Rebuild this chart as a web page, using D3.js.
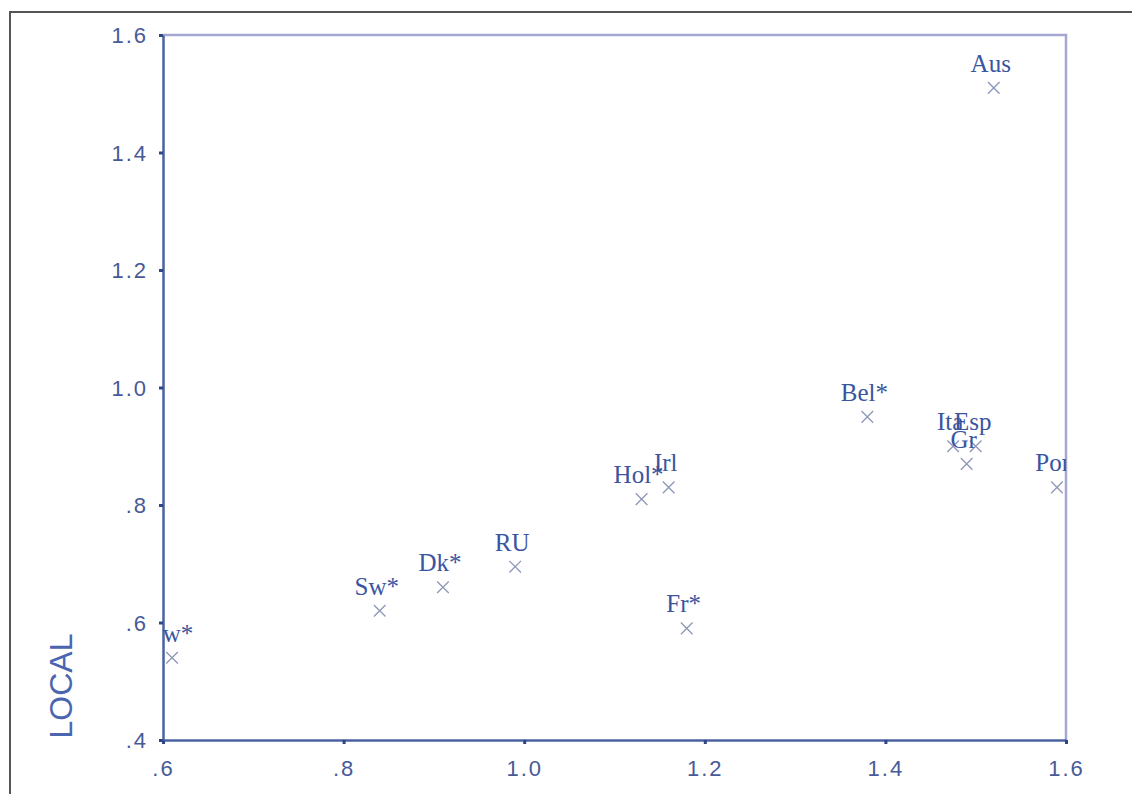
<!DOCTYPE html>
<html>
<head>
<meta charset="utf-8">
<script src="https://cdn.jsdelivr.net/npm/d3@7"></script>
<style>
  html, body { margin: 0; padding: 0; background: #ffffff; }
  svg { display: block; }
</style>
</head>
<body>
<svg id="chart" width="1132" height="794"></svg>
<script>
// Country cases: horizontal value, LOCAL value, case label
const countries = ["Nw*", "Sw*", "Dk*", "RU", "Hol*", "Irl", "Fr*", "Bel*", "Ita", "Esp", "Gr", "Por", "Aus"];
const xValues   = [0.61, 0.84, 0.91, 0.99, 1.13, 1.16, 1.18, 1.38, 1.475, 1.50, 1.49, 1.59, 1.52];
const localValues = [0.54, 0.62, 0.66, 0.695, 0.81, 0.83, 0.59, 0.95, 0.90, 0.90, 0.87, 0.83, 1.51];

const xTicks = [0.6, 0.8, 1.0, 1.2, 1.4, 1.6];
const yTicks = [0.4, 0.6, 0.8, 1.0, 1.2, 1.4, 1.6];
const yTitle = "LOCAL";

const points = countries.map((c, i) => ({ label: c, x: xValues[i], y: localValues[i] }));

const svg = d3.select("#chart");
const plot = { left: 163, right: 1066, top: 35, bottom: 740 };

const x = d3.scaleLinear().domain([0.6, 1.6]).range([plot.left, plot.right]);
const y = d3.scaleLinear().domain([0.4, 1.6]).range([plot.bottom, plot.top]);

// SPSS-style tick text: drop the leading zero
const fmt = d => d3.format(".1f")(d).replace(/^0\./, ".");

const axisColor = "#4a62a2";
const frameColor = "#a4a8d0";
const textColor = "#475a98";
const labelColor = "#3a55a0";
const markColor = "#8d97b9";

// outer page border (left and top edges are visible)
svg.append("path")
  .attr("d", "M10,800 V12 H1140")
  .attr("fill", "none")
  .attr("stroke", "#555")
  .attr("stroke-width", 2);

// plot frame, top and right
svg.append("path")
  .attr("d", `M${plot.left},${plot.top} H${plot.right} V${plot.bottom}`)
  .attr("fill", "none")
  .attr("stroke", frameColor)
  .attr("stroke-width", 2.5);

// clip region for the case labels
svg.append("clipPath").attr("id", "plotClip")
  .append("rect")
  .attr("x", plot.left).attr("y", plot.top - 40)
  .attr("width", plot.right - plot.left).attr("height", plot.bottom - plot.top + 40);

function styleAxis(g) {
  g.select(".domain").attr("stroke", axisColor).attr("stroke-width", 2.5);
  g.selectAll(".tick line").attr("stroke", "#2e4684").attr("stroke-width", 3);
  g.selectAll(".tick text")
    .attr("fill", textColor)
    .style("font-family", "'Liberation Sans', Arial, sans-serif")
    .style("font-size", "22px")
    .style("letter-spacing", "2px");
}

// x axis
const gx = svg.append("g")
  .attr("transform", `translate(0,${plot.bottom})`)
  .call(d3.axisBottom(x).tickValues(xTicks).tickFormat(fmt).tickSize(4).tickSizeOuter(0).tickPadding(16));
styleAxis(gx);

// y axis
const gy = svg.append("g")
  .attr("transform", `translate(${plot.left},0)`)
  .call(d3.axisLeft(y).tickValues(yTicks).tickFormat(fmt).tickSize(4).tickSizeOuter(0).tickPadding(11));
styleAxis(gy);
gy.selectAll(".tick text").attr("dy", "0.36em");

// y axis title
svg.append("text")
  .attr("transform", `translate(72,${686}) rotate(-90)`)
  .attr("text-anchor", "middle")
  .attr("fill", "#4a66b0")
  .style("font-family", "'Liberation Sans', Arial, sans-serif")
  .style("font-size", "32px")
  .text(yTitle);

// markers
const xSymbol = d3.symbolX || d3.symbolTimes;
svg.append("g")
  .selectAll("path")
  .data(points)
  .join("path")
  .attr("transform", d => `translate(${x(d.x)},${y(d.y)})`)
  .attr("d", d3.symbol().type(xSymbol).size(90))
  .attr("fill", "none")
  .attr("stroke", markColor)
  .attr("stroke-width", 1.3);

// case labels above each marker
const labels = svg.append("g")
  .attr("clip-path", "url(#plotClip)")
  .selectAll("text")
  .data(points)
  .join("text")
  .attr("x", d => x(d.x) - 3)
  .attr("y", d => y(d.y) - 16)
  .attr("text-anchor", "middle")
  .attr("fill", labelColor)
  .style("font-family", "'Liberation Serif', 'Times New Roman', serif")
  .style("font-size", "25px")
  .text(d => d.label);

// keep labels near the right frame from running far past it
labels.each(function (d) {
  const w = this.getComputedTextLength();
  const right = x(d.x) - 3 + w / 2;
  const limit = plot.right + 4;
  if (right > limit) d3.select(this).attr("x", x(d.x) - 3 - (right - limit));
});
</script>
</body>
</html>
